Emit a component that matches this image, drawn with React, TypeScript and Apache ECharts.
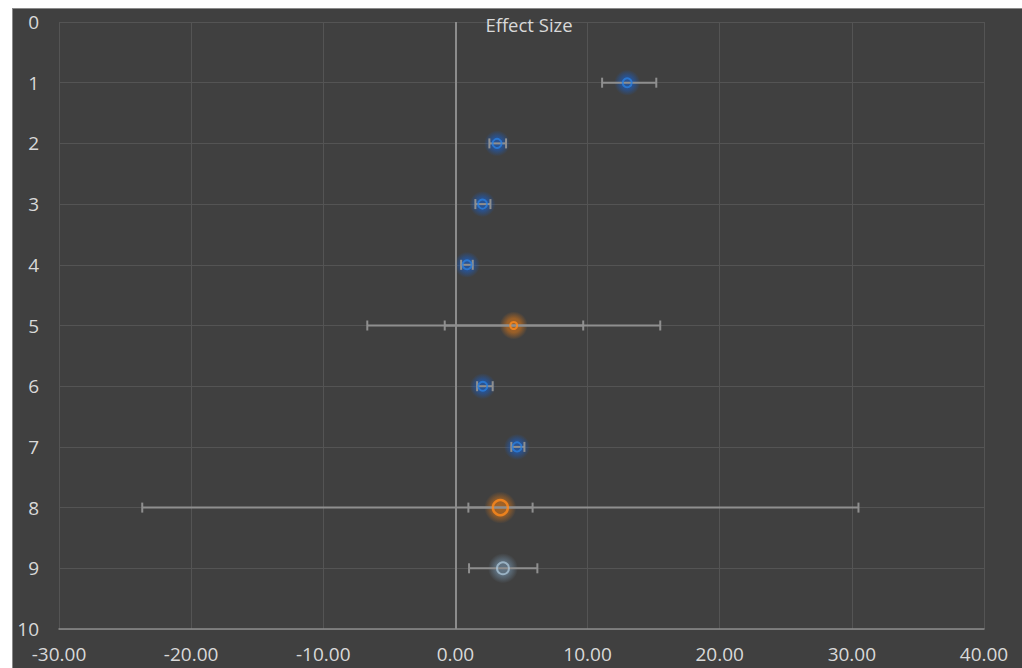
import React, { useEffect, useRef } from "react";
import * as echarts from "echarts";

const rows = [1, 2, 3, 4, 5, 6, 7, 8, 9];
const effect = [13.0, 3.15, 2.05, 0.88, 4.41, 2.07, 4.66, 3.4, 3.6];
const ciLow = [11.1, 2.57, 1.51, 0.43, -0.81, 1.64, 4.23, 0.98, 1.03];
const ciHigh = [15.2, 3.83, 2.65, 1.31, 9.67, 2.82, 5.22, 5.84, 6.2];
const piRows = [5, 8];
const piLow = [-6.67, -23.7];
const piHigh = [15.5, 30.5];
const blueRows = [1, 2, 3, 4, 6, 7];
const orangeSmallRows = [5];
const orangeBigRows = [8];
const grayRows = [9];
const xTicks = { min: -30, max: 40, interval: 10 };
const yTicks = { min: 0, max: 10, interval: 1 };
const titleText = "Effect Size";

const FONT = "'Open Sans', sans-serif";
const LABEL = "#d9d9d9";

function pts(sel: number[]) {
  return sel.map((r) => [effect[r - 1], r]);
}

function glowGrad(rgb: string, a: number) {
  return {
    type: "radial",
    x: 0.5,
    y: 0.5,
    r: 0.5,
    colorStops: [
      { offset: 0, color: `rgba(${rgb},${a})` },
      { offset: 0.5, color: `rgba(${rgb},${a * 0.85})` },
      { offset: 1, color: `rgba(${rgb},0)` },
    ],
  };
}

export default function App() {
  const ref = useRef<HTMLDivElement>(null);
  useEffect(() => {
    if (!ref.current) return;
    const chart = echarts.init(ref.current, undefined, { renderer: "svg" });
    const errData = rows.map((r, i) => [r, ciLow[i], ciHigh[i]]).concat(
      piRows.map((r, i) => [r, piLow[i], piHigh[i]])
    );
    const renderItem = (params: any, api: any) => {
      const y = api.value(0);
      const p1 = api.coord([api.value(1), y]);
      const p2 = api.coord([api.value(2), y]);
      const h = 5;
      const st = { stroke: "#8f8f8f", lineWidth: 2 };
      return {
        type: "group",
        children: [
          { type: "line", shape: { x1: p1[0], y1: p1[1], x2: p2[0], y2: p2[1] }, style: st },
          { type: "line", shape: { x1: p1[0], y1: p1[1] - h, x2: p1[0], y2: p1[1] + h }, style: st },
          { type: "line", shape: { x1: p2[0], y1: p2[1] - h, x2: p2[0], y2: p2[1] + h }, style: st },
        ],
      };
    };
    const marker = (data: number[][], size: number, color: string, bw: number) => ({
      type: "scatter",
      data,
      symbol: "circle",
      symbolSize: size,
      z: 5,
      itemStyle: { color: "rgba(0,0,0,0)", borderColor: color, borderWidth: bw },
      emphasis: { disabled: true },
      silent: true,
    });
    const glow = (data: number[][], size: number, rgb: string, a: number) => ({
      type: "scatter",
      data,
      symbol: "circle",
      symbolSize: size,
      z: 2,
      itemStyle: { color: glowGrad(rgb, a) },
      emphasis: { disabled: true },
      silent: true,
    });
    chart.setOption({
      animation: false,
      backgroundColor: "#404040",
      title: {
        text: titleText,
        left: 511,
        top: 1,
        textAlign: "center",
        textStyle: { color: LABEL, fontFamily: FONT, fontSize: 18.5, fontWeight: "normal" },
      },
      grid: { left: 46, top: 13, right: 38, bottom: 39, containLabel: false },
      xAxis: {
        type: "value",
        ...xTicks,
        position: "bottom",
        axisLine: { show: true, onZero: false, lineStyle: { color: "#8c8c8c", width: 1.5 } },
        axisTick: { show: false },
        splitLine: { show: true, lineStyle: { color: "#545454", width: 1 } },
        axisLabel: {
          color: LABEL,
          fontFamily: FONT,
          fontSize: 19,
          margin: 15,
          formatter: (v: number) => v.toFixed(2),
        },
      },
      yAxis: {
        type: "value",
        ...yTicks,
        inverse: true,
        axisLine: { show: false },
        axisTick: { show: false },
        splitLine: { show: true, lineStyle: { color: "#545454", width: 1 } },
        axisLabel: { color: LABEL, fontFamily: FONT, fontSize: 19, margin: 20 },
      },
      series: [
        glow(pts(blueRows), 26, "25,95,200", 0.8),
        glow(pts(orangeSmallRows), 28, "225,120,20", 0.8),
        glow(pts(orangeBigRows), 32, "225,120,20", 0.8),
        glow(pts(grayRows), 30, "115,145,170", 0.8),
        {
          type: "custom",
          renderItem,
          data: errData,
          encode: { x: [1, 2], y: 0 },
          z: 3,
          silent: true,
          markLine: {
            silent: true,
            symbol: "none",
            label: { show: false },
            lineStyle: { color: "#8c8c8c", width: 2, type: "solid" },
            data: [{ xAxis: 0 }],
          },
        },
        marker(pts(blueRows), 9, "#2a7fe0", 2),
        marker(pts(orangeSmallRows), 7, "#ff8a1c", 2),
        marker(pts(orangeBigRows), 15, "#ff8a1c", 2.5),
        marker(pts(grayRows), 12, "#a9c3d6", 2),
      ],
    });
    return () => chart.dispose();
  }, []);
  return (
    <div
      ref={ref}
      style={{
        position: "absolute",
        left: 12,
        top: 8,
        width: 1010,
        height: 660,
        borderLeft: "1px solid #8a8a8a",
        borderTop: "1px solid #8a8a8a",
        boxSizing: "border-box",
      }}
    />
  );
}
